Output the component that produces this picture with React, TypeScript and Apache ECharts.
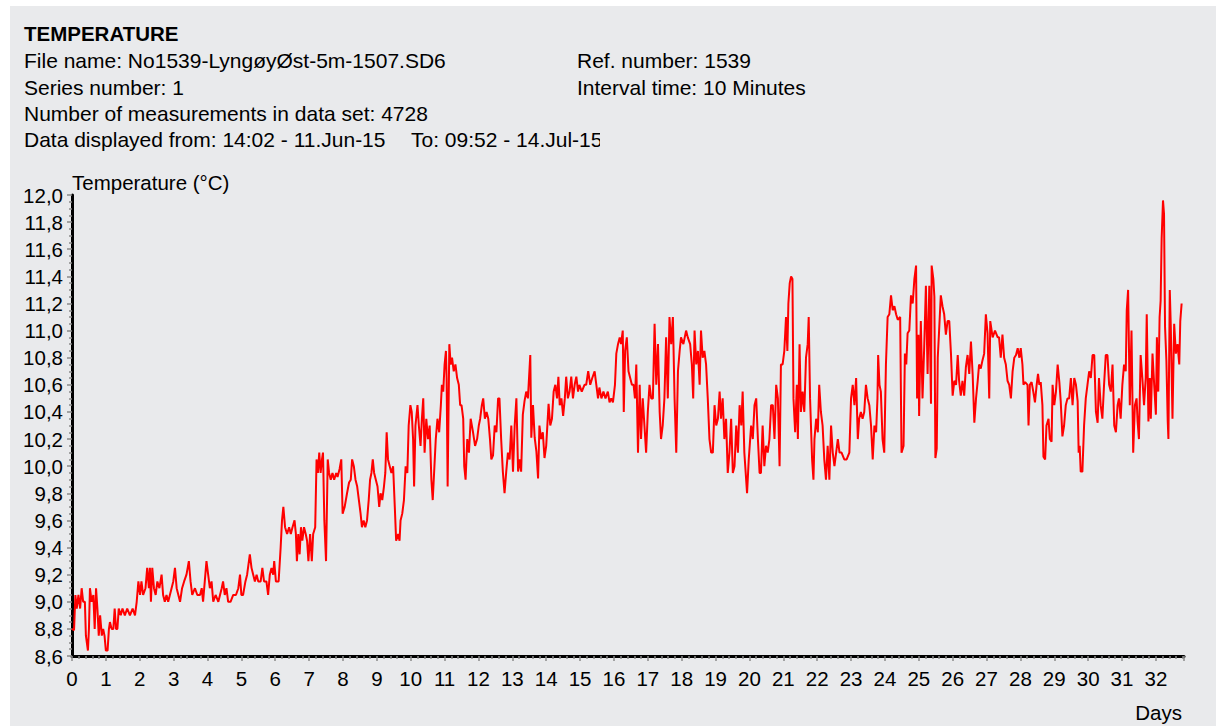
import React, { useEffect, useRef } from "react";
import * as echarts from "echarts";

// ---- texts ----
const titleText = "TEMPERATURE";
const fileNameText = "File name: No1539-LyngøyØst-5m-1507.SD6";
const seriesNumberText = "Series number: 1";
const measurementsText = "Number of measurements in data set: 4728";
const fromText = "Data displayed from: 14:02 - 11.Jun-15";
const toText = "To: 09:52 - 14.Jul-15";
const refNumberText = "Ref. number: 1539";
const intervalText = "Interval time: 10 Minutes";
const yAxisName = "Temperature (°C)";
const xAxisName = "Days";

// ---- axes ----
const yMin = 8.6;
const yMax = 12.0;
const yStep = 0.2;
const xMin = 0;
const xMax = 32.83;
const xStep = 1;

// ---- data: [day, temperature °C] ----
const days0to4: number[][] = [
  [0.0, 8.8], [0.06, 8.79], [0.1, 9.05], [0.14, 8.95], [0.19, 9.05], [0.24, 8.95], [0.285, 9.1], [0.33, 9.0],
  [0.38, 9.0], [0.41, 8.75], [0.47, 8.64], [0.5, 8.8], [0.53, 9.1], [0.58, 9.0], [0.63, 9.05], [0.67, 8.8],
  [0.71, 9.1], [0.75, 8.95], [0.79, 8.75], [0.83, 8.9], [0.88, 8.75], [0.92, 8.8], [0.96, 8.75], [1.0, 8.64],
  [1.05, 8.64], [1.09, 8.8], [1.12, 8.85], [1.17, 8.8], [1.22, 8.8], [1.26, 8.95], [1.3, 8.8], [1.34, 8.8],
  [1.38, 8.95], [1.44, 8.9], [1.49, 8.95], [1.56, 8.9], [1.63, 8.95], [1.71, 8.9], [1.79, 8.95], [1.86, 8.9],
  [1.91, 9.0], [1.96, 9.15], [2.01, 9.05], [2.05, 9.15], [2.1, 9.05], [2.17, 9.1], [2.22, 9.25], [2.27, 9.1],
  [2.3, 9.25], [2.33, 9.0], [2.37, 9.25], [2.42, 9.1], [2.47, 9.05], [2.52, 9.15], [2.58, 9.1], [2.645, 9.2],
  [2.69, 9.05], [2.74, 9.0], [2.79, 9.05], [2.84, 9.0], [2.89, 9.05], [2.94, 9.1], [2.99, 9.15], [3.04, 9.25],
  [3.09, 9.1], [3.19, 9.0], [3.25, 9.1], [3.31, 9.15], [3.38, 9.2], [3.45, 9.3], [3.5, 9.15], [3.55, 9.05],
  [3.63, 9.1], [3.7, 9.05],
];

const days4to8: number[][] = [
  [3.78, 9.05], [3.83, 9.1], [3.87, 9.0], [3.92, 9.15], [3.97, 9.3], [4.02, 9.2], [4.07, 9.1], [4.12, 9.15],
  [4.17, 9.0], [4.24, 9.05], [4.32, 9.0], [4.37, 9.05], [4.42, 9.1], [4.46, 9.15], [4.51, 9.05], [4.56, 9.1],
  [4.61, 9.0], [4.68, 9.0], [4.76, 9.05], [4.84, 9.05], [4.91, 9.1], [4.96, 9.2], [5.0, 9.05], [5.05, 9.05],
  [5.12, 9.15], [5.17, 9.2], [5.25, 9.35], [5.3, 9.25], [5.35, 9.2], [5.4, 9.15], [5.45, 9.2], [5.5, 9.15],
  [5.57, 9.15], [5.62, 9.25], [5.67, 9.15], [5.74, 9.15], [5.79, 9.05], [5.84, 9.2], [5.89, 9.25], [5.94, 9.2],
  [5.97, 9.3], [6.02, 9.15], [6.1, 9.15], [6.16, 9.4], [6.2, 9.6], [6.24, 9.7], [6.29, 9.55], [6.35, 9.5],
  [6.41, 9.55], [6.46, 9.5], [6.51, 9.55], [6.57, 9.6], [6.61, 9.5], [6.64, 9.3], [6.68, 9.5], [6.72, 9.35],
  [6.76, 9.55], [6.8, 9.45], [6.85, 9.55], [6.9, 9.5], [6.94, 9.45], [6.98, 9.3], [7.03, 9.5], [7.08, 9.3],
  [7.12, 9.5], [7.18, 9.55], [7.22, 10.05], [7.26, 9.95], [7.3, 10.1], [7.34, 9.95], [7.38, 10.05], [7.41, 10.1],
  [7.45, 9.6], [7.5, 9.3], [7.55, 10.05], [7.59, 9.95], [7.64, 9.9], [7.69, 9.95], [7.74, 9.9],
];

const days8to12: number[][] = [
  [7.8, 9.95], [7.84, 9.92], [7.9, 9.98], [7.95, 10.05], [7.99, 9.65], [8.05, 9.7], [8.12, 9.8], [8.18, 9.88],
  [8.23, 9.9], [8.27, 10.05], [8.32, 10.0], [8.37, 9.9], [8.42, 9.85], [8.47, 9.75], [8.52, 9.65], [8.56, 9.55],
  [8.61, 9.6], [8.66, 9.55], [8.71, 9.6], [8.76, 9.75], [8.8, 9.9], [8.84, 9.95], [8.88, 10.05], [8.92, 9.95],
  [8.97, 9.9], [9.02, 9.85], [9.07, 9.7], [9.11, 9.8], [9.16, 9.75], [9.21, 9.85], [9.25, 9.95], [9.29, 10.25],
  [9.33, 10.05], [9.38, 10.0], [9.43, 9.95], [9.48, 10.0], [9.53, 9.7], [9.57, 9.45], [9.63, 9.5], [9.67, 9.45],
  [9.7, 9.6], [9.75, 9.65], [9.8, 9.75], [9.85, 10.0], [9.9, 9.95], [9.94, 10.3], [9.99, 10.45], [10.03, 10.4],
  [10.07, 10.2], [10.1, 9.85], [10.14, 10.3], [10.2, 10.45], [10.24, 10.3], [10.29, 10.15], [10.33, 10.35], [10.37, 10.5],
  [10.41, 10.1], [10.46, 10.35], [10.51, 10.2], [10.56, 10.3], [10.61, 9.9], [10.65, 9.75], [10.7, 10.0], [10.74, 10.2],
  [10.79, 10.35], [10.84, 10.25], [10.89, 10.45], [10.92, 10.6], [10.96, 10.55], [11.0, 10.75], [11.04, 10.85], [11.06, 10.65],
  [11.09, 9.85], [11.14, 10.9], [11.18, 10.75], [11.22, 10.8], [11.27, 10.7], [11.32, 10.75], [11.37, 10.65], [11.42, 10.6],
  [11.46, 10.45], [11.5, 10.45], [11.55, 10.35], [11.58, 10.0], [11.62, 9.9], [11.67, 10.2], [11.72, 10.1],
];

const days12to16: number[][] = [
  [11.77, 10.35], [11.84, 10.25], [11.9, 10.15], [11.96, 10.2], [12.01, 10.3], [12.05, 10.35], [12.1, 10.45], [12.14, 10.5],
  [12.19, 10.35], [12.24, 10.4], [12.29, 10.35], [12.34, 10.2], [12.38, 10.05], [12.43, 10.08], [12.48, 10.3], [12.53, 10.25],
  [12.58, 10.5], [12.62, 10.5], [12.67, 10.2], [12.72, 9.96], [12.77, 9.8], [12.82, 9.96], [12.87, 10.1], [12.92, 10.05],
  [12.97, 10.3], [13.02, 9.96], [13.07, 10.3], [13.12, 10.5], [13.17, 9.96], [13.21, 10.05], [13.26, 9.96], [13.31, 10.38],
  [13.36, 10.48], [13.41, 10.55], [13.46, 10.5], [13.53, 10.82], [13.56, 10.21], [13.61, 10.45], [13.66, 10.21], [13.71, 10.11],
  [13.76, 9.91], [13.8, 10.3], [13.85, 10.2], [13.9, 10.25], [13.95, 10.06], [14.0, 10.15], [14.07, 10.46], [14.12, 10.3],
  [14.17, 10.35], [14.22, 10.55], [14.27, 10.6], [14.32, 10.5], [14.36, 10.66], [14.4, 10.45], [14.45, 10.5], [14.5, 10.37],
  [14.55, 10.5], [14.59, 10.66], [14.64, 10.5], [14.69, 10.55], [14.74, 10.66], [14.79, 10.5], [14.84, 10.6], [14.89, 10.66],
  [14.94, 10.55], [14.98, 10.6], [15.05, 10.55], [15.13, 10.6], [15.18, 10.6], [15.24, 10.7], [15.3, 10.6], [15.36, 10.65],
  [15.43, 10.7], [15.48, 10.6], [15.53, 10.5], [15.57, 10.58], [15.63, 10.5], [15.69, 10.55], [15.75, 10.5], [15.82, 10.55],
  [15.87, 10.47], [15.92, 10.5], [15.97, 10.47], [16.03, 10.6], [16.07, 10.83],
];

const days16to20: number[][] = [
  [16.12, 10.9], [16.17, 10.95], [16.21, 10.9], [16.26, 11.0], [16.29, 10.4], [16.33, 10.85], [16.38, 10.95], [16.43, 10.7],
  [16.48, 10.65], [16.53, 10.6], [16.58, 10.6], [16.62, 10.5], [16.66, 10.75], [16.71, 10.1], [16.76, 10.6], [16.8, 10.2],
  [16.85, 10.5], [16.9, 10.3], [16.95, 10.1], [17.0, 10.4], [17.05, 10.6], [17.1, 10.5], [17.15, 10.5], [17.2, 11.05],
  [17.25, 10.6], [17.3, 10.9], [17.35, 10.4], [17.39, 10.2], [17.44, 10.3], [17.49, 10.5], [17.54, 10.95], [17.59, 10.5],
  [17.64, 11.1], [17.69, 10.9], [17.74, 11.1], [17.79, 10.5], [17.84, 10.1], [17.89, 10.7], [17.94, 10.85], [17.98, 10.95],
  [18.05, 10.9], [18.13, 11.0], [18.18, 10.95], [18.25, 10.9], [18.3, 10.75], [18.34, 10.5], [18.38, 11.0], [18.43, 10.75],
  [18.48, 10.85], [18.53, 10.6], [18.57, 11.0], [18.62, 10.8], [18.67, 10.85], [18.72, 10.75], [18.77, 10.5], [18.82, 10.2],
  [18.87, 10.1], [18.92, 10.1], [18.97, 10.45], [19.02, 10.3], [19.07, 10.35], [19.12, 10.55], [19.16, 10.35], [19.21, 10.5],
  [19.26, 10.2], [19.31, 10.35], [19.36, 9.95], [19.41, 10.1], [19.46, 10.35], [19.51, 9.95], [19.56, 10.0], [19.61, 10.3],
  [19.66, 10.1], [19.71, 10.45], [19.76, 10.3], [19.8, 10.55], [19.85, 10.1], [19.93, 9.8], [19.98, 10.05], [20.05, 10.3],
];

const days20to24: number[][] = [
  [20.1, 10.2], [20.15, 10.45], [20.2, 10.5], [20.25, 10.2], [20.3, 9.95], [20.34, 9.95], [20.39, 10.3], [20.44, 10.0],
  [20.49, 10.15], [20.54, 10.1], [20.59, 10.2], [20.64, 10.45], [20.69, 10.45], [20.74, 10.2], [20.79, 10.6], [20.84, 10.5],
  [20.89, 10.0], [20.93, 10.75], [20.98, 10.75], [21.03, 10.85], [21.08, 11.1], [21.12, 10.85], [21.15, 11.2], [21.19, 11.35],
  [21.23, 11.4], [21.27, 11.38], [21.3, 10.5], [21.35, 10.25], [21.4, 10.6], [21.43, 10.2], [21.48, 10.9], [21.52, 10.4],
  [21.57, 10.55], [21.62, 10.4], [21.67, 10.8], [21.72, 10.9], [21.75, 11.1], [21.79, 10.5], [21.85, 10.05], [21.89, 9.9],
  [21.92, 10.2], [21.97, 10.35], [22.02, 10.25], [22.06, 10.6], [22.11, 10.4], [22.16, 10.3], [22.21, 10.05], [22.26, 9.9],
  [22.31, 10.15], [22.36, 9.9], [22.41, 10.3], [22.46, 10.1], [22.51, 10.0], [22.56, 10.1], [22.61, 10.2], [22.66, 10.1],
  [22.72, 10.1], [22.8, 10.05], [22.87, 10.05], [22.95, 10.1], [23.0, 10.5], [23.05, 10.6], [23.1, 10.45], [23.15, 10.65],
  [23.2, 10.2], [23.24, 10.35], [23.29, 10.4], [23.34, 10.35], [23.39, 10.4], [23.44, 10.6], [23.49, 10.5], [23.54, 10.45],
  [23.59, 10.3], [23.64, 10.05], [23.69, 10.3],
];

const days24to28: number[][] = [
  [23.74, 10.25], [23.78, 10.5], [23.8, 10.82], [23.84, 10.6], [23.88, 10.55], [23.93, 10.2], [23.98, 10.1], [24.03, 10.75],
  [24.08, 11.1], [24.13, 11.12], [24.18, 11.26], [24.23, 11.15], [24.28, 11.18], [24.33, 11.12], [24.38, 11.08], [24.45, 11.1],
  [24.49, 10.1], [24.55, 10.15], [24.59, 10.83], [24.63, 10.75], [24.67, 10.98], [24.72, 11.0], [24.77, 11.26], [24.82, 11.2],
  [24.87, 11.38], [24.92, 11.48], [24.95, 10.5], [24.99, 10.97], [25.01, 10.37], [25.06, 11.07], [25.11, 10.5], [25.16, 10.88],
  [25.21, 11.33], [25.26, 10.68], [25.31, 11.33], [25.36, 10.46], [25.38, 11.48], [25.43, 11.38], [25.46, 11.25], [25.49, 10.06],
  [25.53, 10.13], [25.56, 10.8], [25.6, 11.0], [25.65, 11.26], [25.7, 11.18], [25.75, 11.12], [25.8, 10.97], [25.85, 11.07],
  [25.9, 11.07], [25.95, 10.83], [26.0, 10.52], [26.05, 10.63], [26.1, 10.6], [26.15, 10.82], [26.19, 10.63], [26.24, 10.52],
  [26.29, 10.63], [26.34, 10.52], [26.39, 10.73], [26.44, 10.82], [26.49, 10.68], [26.54, 10.92], [26.59, 10.68], [26.64, 10.32],
  [26.69, 10.5], [26.74, 10.63], [26.78, 10.75], [26.83, 10.72], [26.88, 10.78], [26.93, 10.83], [26.98, 11.12], [27.03, 10.98],
  [27.08, 10.5], [27.11, 11.07], [27.18, 10.95], [27.25, 11.0], [27.33, 10.95], [27.37, 10.95], [27.42, 10.8], [27.47, 10.97],
  [27.52, 10.8], [27.57, 10.75], [27.62, 10.63], [27.67, 10.6],
];

const days28to33: number[][] = [
  [27.72, 10.5], [27.77, 10.7], [27.82, 10.8], [27.87, 10.82], [27.92, 10.87], [27.97, 10.8], [28.01, 10.87], [28.06, 10.75],
  [28.09, 10.6], [28.14, 10.62], [28.21, 10.6], [28.24, 10.3], [28.28, 10.6], [28.33, 10.62], [28.38, 10.55], [28.43, 10.47],
  [28.48, 10.6], [28.52, 10.68], [28.56, 10.6], [28.6, 10.62], [28.65, 10.45], [28.68, 10.07], [28.73, 10.05], [28.77, 10.3],
  [28.83, 10.35], [28.87, 10.2], [28.92, 10.18], [28.95, 10.6], [29.0, 10.45], [29.05, 10.55], [29.1, 10.75], [29.15, 10.62],
  [29.19, 10.48], [29.24, 10.22], [29.29, 10.3], [29.34, 10.45], [29.39, 10.5], [29.44, 10.5], [29.49, 10.65], [29.54, 10.45],
  [29.59, 10.65], [29.64, 10.6], [29.69, 10.48], [29.72, 10.1], [29.75, 10.15], [29.78, 9.96], [29.83, 9.96], [29.88, 10.3],
  [29.93, 10.5], [29.98, 10.6], [30.03, 10.7], [30.08, 10.65], [30.13, 10.82], [30.18, 10.82], [30.23, 10.4], [30.28, 10.32],
  [30.32, 10.65], [30.37, 10.45], [30.42, 10.35], [30.47, 10.6], [30.52, 10.82], [30.57, 10.82], [30.62, 10.6], [30.67, 10.55],
  [30.72, 10.75], [30.77, 10.3], [30.82, 10.25], [30.87, 10.45], [30.91, 10.5], [30.96, 10.35], [31.01, 10.6], [31.06, 10.75],
  [31.11, 10.7], [31.14, 11.15], [31.18, 11.3], [31.23, 10.45], [31.28, 11.0], [31.33, 10.1], [31.38, 10.45], [31.43, 10.5],
  [31.46, 10.33], [31.5, 10.2], [31.55, 10.82], [31.6, 10.65], [31.65, 10.45], [31.7, 10.65], [31.73, 11.12], [31.78, 10.33],
  [31.82, 10.65], [31.85, 10.35], [31.9, 10.83], [31.95, 10.6], [32.0, 10.38], [32.03, 10.95], [32.07, 10.55], [32.11, 11.1],
  [32.14, 11.22], [32.17, 11.68], [32.21, 11.96], [32.24, 11.86], [32.27, 11.03], [32.31, 10.78], [32.35, 10.33], [32.37, 10.2],
  [32.41, 11.3], [32.44, 11.03], [32.49, 10.35], [32.54, 11.05], [32.59, 10.83], [32.64, 10.9], [32.69, 10.75], [32.72, 11.07],
  [32.76, 11.2],
];

const FONT = '"Liberation Sans", Arial, Helvetica, sans-serif';
const BG = "#e9eaec";

export default function App() {
  const ref = useRef<HTMLDivElement>(null);

  useEffect(() => {
    if (!ref.current) return;
    const chart = echarts.init(ref.current, undefined, { renderer: "svg" });
    const data = [
      ...days0to4, ...days4to8, ...days8to12, ...days12to16,
      ...days16to20, ...days20to24, ...days24to28, ...days28to33,
    ];
    const txt = (text: string, x: number, y: number, bold = false) => ({
      type: "text",
      x,
      y,
      z: 10,
      style: {
        text,
        fill: "#000",
        fontFamily: FONT,
        fontSize: bold ? 20.5 : 21,
        fontWeight: bold ? "bold" : "normal",
        align: "left",
        verticalAlign: "middle",
      },
    });
    const tickColor = "#8a8a8a";
    chart.setOption({
      animation: false,
      backgroundColor: BG,
      textStyle: { fontFamily: FONT },
      grid: { left: 62, top: 189, right: 32, bottom: 70, containLabel: false },
      xAxis: {
        type: "value",
        min: xMin,
        max: xMax,
        interval: xStep,
        name: xAxisName,
        nameLocation: "end",
        nameGap: -2,
        nameTextStyle: {
          color: "#000",
          fontSize: 20.5,
          fontFamily: FONT,
          align: "right",
          verticalAlign: "top",
          padding: [46, 0, 0, 0],
        },
        axisLine: { show: true, onZero: false, lineStyle: { color: "#000", width: 3 } },
        axisTick: { show: true, length: 5, lineStyle: { color: tickColor, width: 1.5 } },
        minorTick: { show: true, splitNumber: 5, length: 3, lineStyle: { color: tickColor, width: 1.5 } },
        axisLabel: {
          color: "#000",
          fontSize: 20.5,
          fontFamily: FONT,
          margin: 12,
          formatter: (v: number) => (Math.abs(v - Math.round(v)) < 1e-6 ? String(Math.round(v)) : ""),
        },
        splitLine: { show: false },
        minorSplitLine: { show: false },
      },
      yAxis: {
        type: "value",
        min: yMin,
        max: yMax,
        interval: yStep,
        name: yAxisName,
        nameLocation: "end",
        nameGap: 13,
        nameTextStyle: {
          color: "#000",
          fontSize: 20.5,
          fontFamily: FONT,
          align: "left",
          verticalAlign: "middle",
        },
        axisLine: { show: true, onZero: false, lineStyle: { color: "#000", width: 3 } },
        axisTick: { show: true, length: 5, lineStyle: { color: tickColor, width: 1.5 } },
        minorTick: { show: true, splitNumber: 4, length: 3, lineStyle: { color: tickColor, width: 1.5 } },
        axisLabel: {
          color: "#000",
          fontSize: 20.5,
          fontFamily: FONT,
          margin: 9,
          formatter: (v: number) => v.toFixed(1).replace(".", ","),
        },
        splitLine: { show: false },
        minorSplitLine: { show: false },
      },
      series: [
        {
          type: "line",
          data,
          symbol: "none",
          showSymbol: false,
          clip: true,
          z: 3,
          lineStyle: { color: "#ff0000", width: 2 },
          itemStyle: { color: "#ff0000" },
        },
      ],
      graphic: [
        txt(titleText, 14, 27, true),
        txt(fileNameText, 14, 54),
        txt(seriesNumberText, 14, 81),
        txt(measurementsText, 14, 107),
        txt(fromText, 14, 133),
        txt(toText, 401, 133),
        txt(refNumberText, 567, 54),
        txt(intervalText, 567, 81),
        {
          type: "rect",
          z: 20,
          shape: { x: 590, y: 118, width: 24, height: 30 },
          style: { fill: BG },
        },
      ],
    });
    return () => chart.dispose();
  }, []);

  return (
    <div
      ref={ref}
      style={{ position: "absolute", left: 10, top: 6, width: 1206, height: 720 }}
    />
  );
}
